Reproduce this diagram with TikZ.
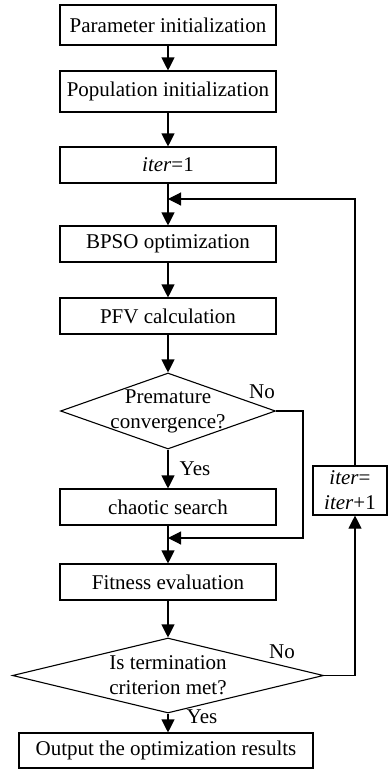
\documentclass[tikz,border=0pt]{standalone}
\usepackage{fontspec}
\setmainfont{Liberation Serif}
\usetikzlibrary{arrows.meta, shapes.geometric, calc}

\begin{document}
\begin{tikzpicture}[x=1pt,y=-1pt,
  every node/.style={font=\fontsize{21}{25}\selectfont},
  procbox/.style={draw,line width=1.1pt,minimum width=216pt,minimum height=36pt,inner sep=0pt},
  decision/.style={draw,diamond,line width=1.1pt,inner sep=0pt},
  flow/.style={line width=1.1pt,-{Triangle[length=13pt,width=13pt]}}]
\useasboundingbox (0,0) rectangle (388,769);
\node[procbox,minimum height=40pt] (param) at (168,25) {Parameter initialization};
\node[procbox,minimum height=41pt] (popu) at (168,91.5) {Population initialization};
\node[procbox] (init) at (168,165) {\textit{iter}=1};
\node[procbox] (bpso) at (168,244) {BPSO optimization};
\node[procbox] (pfv) at (168,316) {PFV calculation};
\node[decision,minimum width=215pt,minimum height=76pt] (prem) at (168,411) {};
\node[align=center] (premtxt) at (prem) {Premature\\convergence?};
\node[procbox] (chaos) at (168,507) {chaotic search};
\node[procbox] (fit) at (168,582) {Fitness evaluation};
\node[decision,minimum width=311pt,minimum height=75pt] (term) at (168,675.5) {};
\node[align=center] (termtxt) at (term) {Is termination\\criterion met?};
\node[procbox,minimum width=294pt,minimum height=35pt] (out) at (166,750.5) {Output the optimization results};
\node[procbox,minimum width=74pt,minimum height=49pt,align=center] (iterbox) at (350,490.5) {\textit{iter}=\\\textit{iter}+1};
\node (noA) at (262,392) {No};
\node (yesA) at (195,469) {Yes};
\node (noB) at (282,652) {No};
\node (yesB) at (202,717) {Yes};
\coordinate (joinA) at (168,199);
\coordinate (joinB) at (168,538);
\coordinate (sidecol) at (303,0);
\coordinate (loopcol) at (355,0);
\draw[flow] (param) -- (popu);
\draw[flow] (popu) -- (init);
\draw[flow] (init) -- (bpso);
\draw[flow] (bpso) -- (pfv);
\draw[flow] (pfv) -- (prem);
\draw[flow] (prem) -- (chaos);
\draw[flow] (chaos) -- (fit);
\draw[flow] (fit) -- (term);
\draw[flow] (term.south) -- (term.south |- out.north);
\draw[flow] (prem.east) -- (prem.east -| sidecol) -- (sidecol |- joinB) -- (joinB);
\draw[flow] (term.east) -- (term.east -| loopcol) -- (loopcol |- iterbox.south);
\draw[flow] (loopcol |- iterbox.north) -- (loopcol |- joinA) -- (joinA);
\end{tikzpicture}
\end{document}
